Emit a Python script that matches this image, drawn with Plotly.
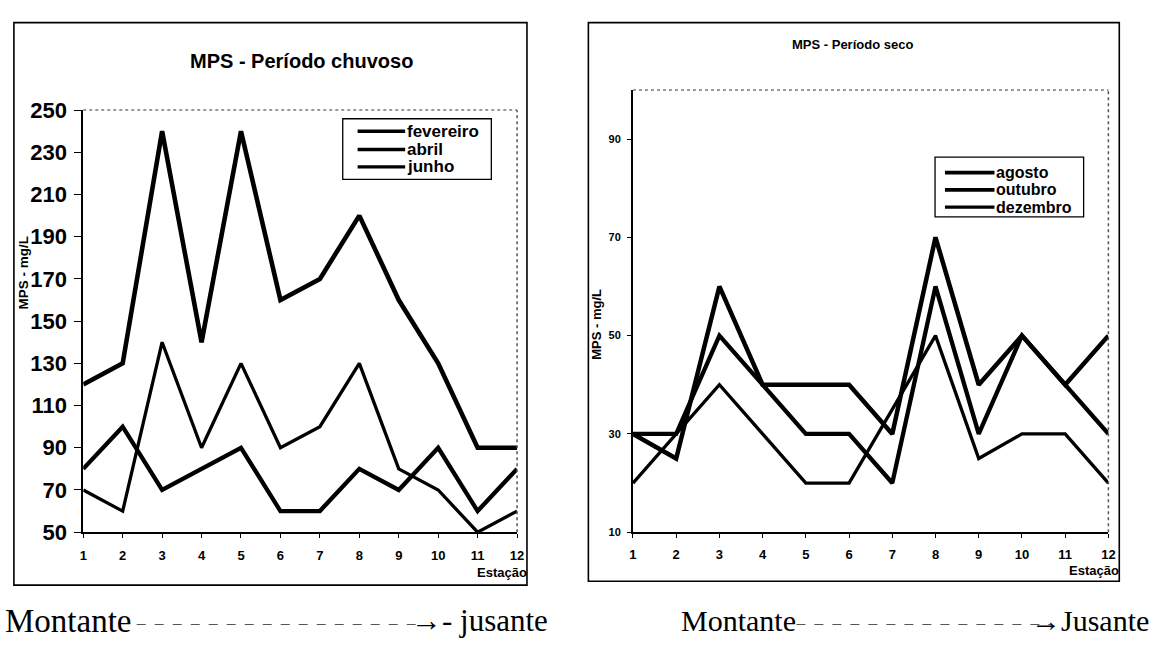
import plotly.graph_objects as go

# Stations along the river (upstream -> downstream)
estacoes = list(range(1, 13))

# Rainy period, MPS in mg/L
fevereiro = [120, 130, 240, 140, 240, 160, 170, 200, 160, 130, 90, 90]
abril = [80, 100, 70, 80, 90, 60, 60, 80, 70, 90, 60, 80]
junho = [70, 60, 140, 90, 130, 90, 100, 130, 80, 70, 50, 60]

# Dry period, MPS in mg/L
agosto = [30, 25, 60, 40, 40, 40, 30, 70, 40, 50, 40, 50]
outubro = [30, 30, 50, 40, 30, 30, 20, 60, 30, 50, 40, 30]
dezembro = [20, 30, 40, 30, 20, 20, 35, 50, 25, 30, 30, 20]

chuvoso_ticks = list(range(50, 251, 20))
seco_ticks = [10, 30, 50, 70, 90]

W, H = 1156, 650


def px(x):
    return x / W


def py(y):
    return 1 - y / H


FONT = "Liberation Sans, Arial, sans-serif"
SERIF = "Liberation Serif, Times New Roman, serif"

chuvoso = [("fevereiro", fevereiro, 4.6), ("abril", abril, 4.3), ("junho", junho, 3.3)]
seco = [("agosto", agosto, 4.5), ("outubro", outubro, 4.3), ("dezembro", dezembro, 3.3)]

fig = go.Figure()
for name, vals, w in chuvoso:
    fig.add_trace(go.Scatter(x=estacoes, y=vals, mode="lines", name=name,
                             line=dict(color="black", width=w), xaxis="x", yaxis="y"))
for name, vals, w in seco:
    fig.add_trace(go.Scatter(x=estacoes, y=vals, mode="lines", name=name,
                             line=dict(color="black", width=w), xaxis="x2", yaxis="y2"))

axis_common = dict(showgrid=False, zeroline=False, showline=True, linecolor="black",
                   linewidth=1.8, ticks="outside", tickcolor="black", tickwidth=1.2)

fig.update_layout(
    width=W, height=H,
    margin=dict(l=0, r=0, t=0, b=0),
    paper_bgcolor="white", plot_bgcolor="white",
    font=dict(family=FONT, color="black"),
    showlegend=False,
    xaxis=dict(domain=[px(80), px(518)], range=[1, 12], tickvals=estacoes,
               ticklen=4, ticklabelstandoff=6,
               tickfont=dict(size=13, family=FONT, weight="bold"), anchor="y", **axis_common),
    yaxis=dict(domain=[py(541), py(102)], range=[50, 250], tickvals=chuvoso_ticks,
               ticklen=7, ticklabelstandoff=3,
               tickfont=dict(size=22, family=FONT, weight="bold"), anchor="x", **axis_common),
    xaxis2=dict(domain=[px(635), px(1115)], range=[1, 12], tickvals=estacoes,
                ticklen=4, ticklabelstandoff=5,
                tickfont=dict(size=13, family=FONT, weight="bold"), anchor="y2", **axis_common),
    yaxis2=dict(domain=[py(541), py(81)], range=[10, 100], tickvals=seco_ticks,
                ticklen=4, ticklabelstandoff=4,
                tickfont=dict(size=11, family=FONT, weight="bold"), anchor="x2", **axis_common),
)

shapes = []
# outer chart frames
shapes.append(dict(type="rect", xref="paper", yref="paper",
                   x0=px(10), x1=px(528), y0=py(596), y1=py(11),
                   line=dict(color="black", width=1.6)))
shapes.append(dict(type="rect", xref="paper", yref="paper",
                   x0=px(590), x1=px(1126), y0=py(592), y1=py(11),
                   line=dict(color="black", width=1.6)))
# plot-area borders (top and right, dotted grey)
for xr, yr in [("x", "y"), ("x2", "y2")]:
    shapes.append(dict(type="line", xref=f"{xr} domain", yref=f"{yr} domain",
                       x0=0, x1=1, y0=1, y1=1, line=dict(color="#777", width=1.5, dash="dot")))
    shapes.append(dict(type="line", xref=f"{xr} domain", yref=f"{yr} domain",
                       x0=1, x1=1, y0=0, y1=1, line=dict(color="#555", width=1.5, dash="dot")))
# dashed arrows under the charts
shapes.append(dict(type="line", xref="paper", yref="paper",
                   x0=px(134), x1=px(424), y0=py(637), y1=py(637),
                   line=dict(color="#555", width=1.2, dash="dash")))
shapes.append(dict(type="line", xref="paper", yref="paper",
                   x0=px(800), x1=px(1058), y0=py(637), y1=py(637),
                   line=dict(color="#555", width=1.2, dash="dash")))


def label(text, x, y, size, family=FONT, xanchor="center", angle=0):
    return dict(text=text, xref="paper", yref="paper", x=px(x), y=py(y),
                xanchor=xanchor, yanchor="middle", textangle=angle, showarrow=False,
                borderpad=0, font=dict(size=size, family=family, color="black"))


ann = [
    label("<b>MPS - Período chuvoso</b>", 300, 51, 20),
    label("<b>MPS - Período seco</b>", 857, 34, 13),
    label("<b>MPS - mg/L</b>", 20, 271, 13.5, angle=-90),
    label("<b>MPS - mg/L</b>", 598, 325, 13, angle=-90),
    label("<b>Estação</b>", 529, 583, 13, xanchor="right"),
    label("<b>Estação</b>", 1127, 581, 13, xanchor="right"),
    label("Montante", 0, 633, 33, family=SERIF, xanchor="left"),
    label("→- jusante", 550, 633, 31, family=SERIF, xanchor="right"),
    label("Montante", 682, 633, 30, family=SERIF, xanchor="left"),
    label("→Jusante", 1157, 633, 30, family=SERIF, xanchor="right"),
]


# legend boxes: frame, line sample and series name per row
def legend_box(series, x0, x1, y0, y1, rows, line_x0, line_x1, text_x, size):
    shapes.append(dict(type="rect", xref="paper", yref="paper",
                       x0=px(x0), x1=px(x1), y0=py(y1), y1=py(y0),
                       fillcolor="white", line=dict(color="black", width=1.3)))
    for (name, _, w), ry in zip(series, rows):
        shapes.append(dict(type="line", xref="paper", yref="paper",
                           x0=px(line_x0), x1=px(line_x1), y0=py(ry), y1=py(ry),
                           line=dict(color="black", width=min(w, 3.6))))
        ann.append(label(f"<b>{name}</b>", text_x, ry, size, xanchor="left"))


legend_box(chuvoso, 342, 492, 111, 174, [124, 143, 161], 357, 405, 406, 17)
legend_box(seco, 940, 1090, 151, 213, [167, 185, 203], 950, 1000, 1001, 16)

fig.update_layout(shapes=shapes, annotations=ann)

fig.write_html("out.html")
